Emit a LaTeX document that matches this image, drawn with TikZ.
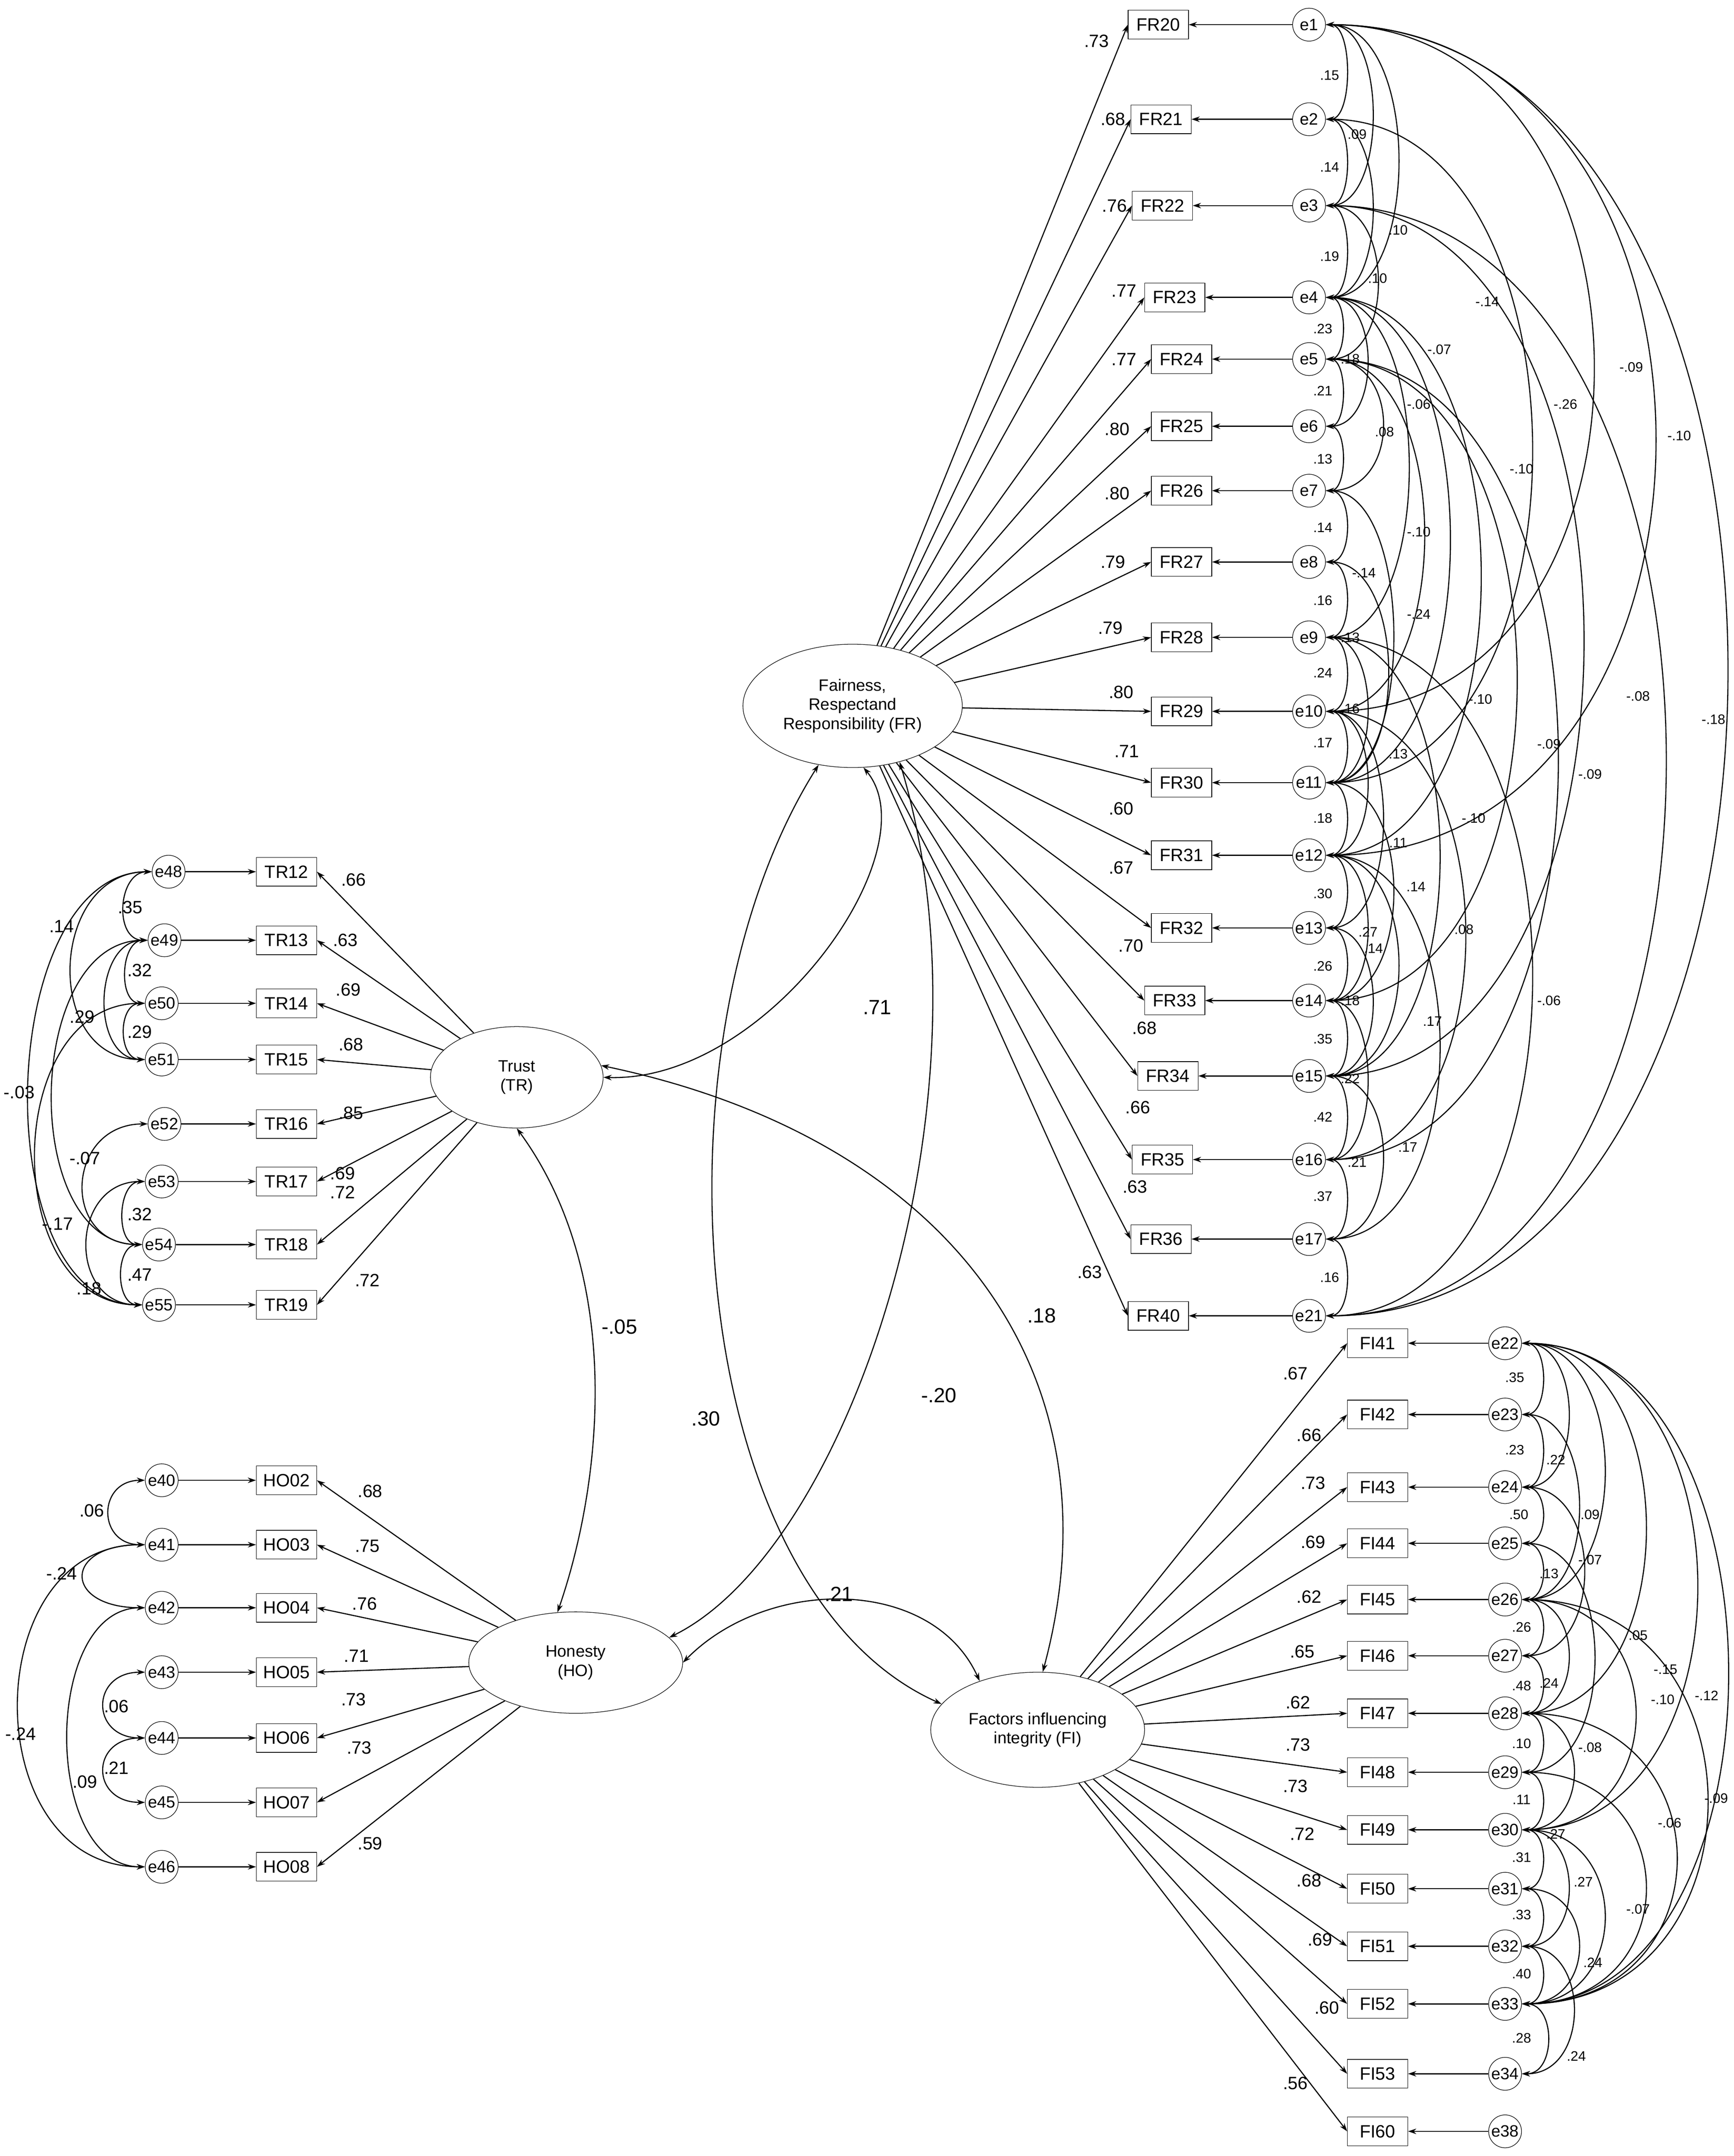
\documentclass[tikz,border=0pt]{standalone}
\usepackage{fontspec}
\setmainfont{Liberation Sans}
\usetikzlibrary{shapes.geometric,arrows.meta}
\begin{document}
\begin{tikzpicture}[x=1pt,y=-1pt,
 obs/.style={draw, minimum width=44pt, minimum height=21pt, inner sep=0pt, font=\fontsize{13}{13}\selectfont},
 err/.style={draw, circle, minimum size=24pt, inner sep=0pt, font=\fontsize{12}{12}\selectfont},
 lat/.style={draw, ellipse, align=center, inner sep=0pt, font=\fontsize{12}{14}\selectfont},
 ar/.style={-{Stealth[length=6pt,width=4pt]}, line width=0.8pt},
 cor/.style={{Stealth[length=6pt,width=4pt]}-{Stealth[length=6pt,width=4pt]}, line width=0.8pt},
 lab/.style={font=\fontsize{13}{13}\selectfont, inner sep=1pt},
 big/.style={font=\fontsize{15}{15}\selectfont, inner sep=1pt},
 sl/.style={font=\fontsize{10}{10}\selectfont, inner sep=1pt}]
\useasboundingbox (0,0) rectangle (1265,1573);
% latent variables
\node[lat, minimum width=160pt, minimum height=90pt] (FR) at (622,515) {Fairness,\\Respectand\\Responsibility (FR)};
\node[lat, minimum width=126pt, minimum height=74pt] (TR) at (377,786) {Trust\\(TR)};
\node[lat, minimum width=156pt, minimum height=74pt] (HO) at (420,1213) {Honesty\\(HO)};
\node[lat, minimum width=156pt, minimum height=84pt] (FI) at (757,1262) {Factors influencing\\integrity (FI)};
% FR block
\foreach \n/\bx/\y/\e/\l/\lx/\ly in {20/845/18/1/.73/800/30, 21/847/87/2/.68/812/87, 22/848/150/3/.76/813/150, 23/857/217/4/.77/820/212, 24/862/262/5/.77/820/262, 25/862/311/6/.80/815/313, 26/862/358/7/.80/815/360, 27/862/410/8/.79/812/410, 28/862/465/9/.79/810/458, 29/862/519/10/.80/818/505, 30/862/571/11/.71/822/548, 31/862/624/12/.60/818/590, 32/862/677/13/.67/818/633, 33/857/730/14/.70/825/690, 34/852/785/15/.68/835/750, 35/848/846/16/.66/830/808, 36/847/904/17/.63/828/866, 40/845/960/21/.63/795/928}{
 \node[obs] (FR\n) at (\bx,\y) {FR\n};
 \node[err] (e\e) at (955,\y) {e\e};
 \draw[ar] (e\e) -- (FR\n);
 \draw[ar] (FR) -- (FR\n.west);
 \node[lab] at (\lx,\ly) {\l};
}
% TR block
\foreach \n/\y/\e/\ex/\l/\lx/\ly in {12/636/48/123/.66/258/642, 13/686/49/120/.63/252/686, 14/732/50/118/.69/254/722, 15/773/51/118/.68/256/762, 16/820/52/120/.85/256/812, 17/862/53/118/.69/250/856, 18/908/54/116/.72/250/870, 19/952/55/116/.72/268/934}{
 \node[obs] (TR\n) at (209,\y) {TR\n};
 \node[err] (e\e) at (\ex,\y) {e\e};
 \draw[ar] (e\e) -- (TR\n);
 \draw[ar] (TR) -- (TR\n.east);
 \node[lab] at (\lx,\ly) {\l};
}
% HO block
\foreach \n/\y/\e/\l/\lx/\ly in {02/1080/40/.68/270/1088, 03/1127/41/.75/268/1128, 04/1173/42/.76/266/1170, 05/1220/43/.71/260/1208, 06/1268/44/.73/258/1240, 07/1315/45/.73/262/1275, 08/1362/46/.59/270/1345}{
 \node[obs] (HO\n) at (209,\y) {HO\n};
 \node[err] (e\e) at (118,\y) {e\e};
 \draw[ar] (e\e) -- (HO\n);
 \draw[ar] (HO) -- (HO\n.east);
 \node[lab] at (\lx,\ly) {\l};
}
% FI block
\foreach \n/\y/\e/\l/\lx/\ly in {41/980/22/.67/945/1002, 42/1032/23/.66/955/1047, 43/1085/24/.73/958/1082, 44/1126/25/.69/958/1125, 45/1167/26/.62/955/1165, 46/1208/27/.65/950/1205, 47/1250/28/.62/947/1242, 48/1293/29/.73/947/1273, 49/1335/30/.73/945/1303, 50/1378/31/.72/950/1338, 51/1420/32/.68/955/1372, 52/1462/33/.69/963/1415, 53/1513/34/.60/968/1465, 60/1555/38/.56/945/1520}{
 \node[obs] (FI\n) at (1005,\y) {FI\n};
 \node[err] (e\e) at (1098,\y) {e\e};
 \draw[ar] (e\e) -- (FI\n);
 \draw[ar] (FI) -- (FI\n.west);
 \node[lab] at (\lx,\ly) {\l};
}
% structural correlations
\draw[cor] (FR.-80) .. controls (680,620) and (560,790) .. (TR.east);
\draw[cor] (FR.-50) .. controls (730,800) and (620,1130) .. (HO.15);
\draw[cor] (FR.-120) .. controls (470,760) and (500,1160) .. (FI.165);
\draw[cor] (TR.south) .. controls (455,930) and (440,1080) .. (HO.110);
\draw[cor] (TR.8) .. controls (690,830) and (820,1000) .. (FI.85);
\draw[cor] (HO.east) .. controls (560,1150) and (680,1150) .. (FI.140);
\node[big] at (640,735) {.71};
\node[big] at (685,1018) {-.20};
\node[big] at (515,1035) {.30};
\node[big] at (452,968) {-.05};
\node[big] at (760,960) {.18};
\node[big] at (612,1163) {.21};
% FR error covariances
\foreach \p/\q/\w in {1/2/20,2/3/20,3/4/20,4/5/16,5/6/16,6/7/16,7/8/20,8/9/20,9/10/20,10/11/20,11/12/20,12/13/20,13/14/20,14/15/20,15/16/20,16/17/20,17/21/20,
 1/3/45,1/4/70,1/10/260,1/12/320,1/21/390,2/11/200,3/5/50,3/21/330,3/15/250,4/6/40,4/11/120,4/9/80,5/7/55,5/14/185,5/16/225,5/10/95,7/11/65,8/11/60,9/11/40,9/15/110,9/21/200,10/13/55,10/16/135,11/14/65,12/14/40,12/15/70,13/15/45,14/16/40,15/17/55,12/17/110,10/12/40,4/12/150,2/4/45}{
 \draw[cor] (e\p.east) .. controls +(\w,0) and +(\w,0) .. (e\q.east);
}
\foreach \l/\x/\y in {.15/970/55,.09/990/98,.14/970/122,.10/1020/168,.19/970/187,.10/1005/203,-.14/1085/220,.23/965/240,-.07/1050/255,-.09/1190/268,.21/965/285,.18/985/262,-.26/1142/295,-.06/1035/295,.08/1010/315,-.10/1225/318,.13/965/335,-.10/1110/342,.14/965/385,-.10/1035/388,-.14/995/418,-.24/1035/448,.16/965/438,.13/985/465,.24/965/491,-.10/1080/510,-.08/1195/508,-.18/1250/525,.17/965/542,.16/985/517,.13/1020/550,-.09/1130/543,-.09/1160/565,.18/965/597,.11/1020/615,-.10/1075/597,.30/965/652,.27/998/680,.14/1033/647,.14/1002/692,.08/1068/678,.26/965/705,.18/985/730,.35/965/758,.17/1045/745,.22/985/787,-.06/1130/730,.42/965/815,.21/990/848,.17/1027/837,.37/965/873,.16/970/932}{
 \node[sl] at (\x,\y) {\l};
}
% FI error covariances
\foreach \p/\q/\w in {22/23/20,23/24/20,24/25/20,25/26/20,26/27/20,27/28/20,28/29/20,29/30/20,30/31/20,31/32/20,32/33/20,33/34/25,22/24/45,22/26/80,22/28/120,22/30/170,22/33/200,24/27/60,26/28/45,26/30/110,26/33/180,28/30/50,28/33/150,30/32/45,30/33/80,31/33/55,29/33/120,32/34/50,25/29/70,23/26/55}{
 \draw[cor] (e\p.east) .. controls +(\w,0) and +(\w,0) .. (e\q.east);
}
\foreach \l/\x/\y in {.35/1105/1005,.23/1105/1058,.22/1135/1065,.09/1160/1105,.50/1108/1105,-.07/1160/1138,.13/1130/1148,.05/1195/1193,.26/1110/1187,-.15/1215/1218,.24/1130/1228,-.10/1213/1240,-.12/1245/1237,.48/1110/1230,-.08/1160/1275,.10/1110/1272,.11/1110/1313,.27/1135/1338,-.06/1218/1330,-.09/1252/1312,.31/1110/1355,.27/1155/1373,-.07/1195/1393,.33/1110/1397,.24/1162/1432,.40/1110/1440,.24/1150/1500,.28/1110/1487}{
 \node[sl] at (\x,\y) {\l};
}
% TR error covariances
\foreach \p/\q/\w in {48/49/25,49/50/20,50/51/20,48/51/75,49/54/90,48/55/115,52/54/60,50/55/105,53/54/20,54/55/20,53/55/55,49/51/40}{
 \draw[cor] (e\p.west) .. controls +(-\w,0) and +(-\w,0) .. (e\q.west);
}
\foreach \l/\x/\y in {.14/45/676,.35/95/662,.32/102/708,.29/60/742,.29/102/753,-.03/14/797,-.07/62/845,-.17/42/893,.32/102/886,.47/102/930,.18/65/940}{
 \node[lab] at (\x,\y) {\l};
}
% HO error covariances
\foreach \p/\q/\w in {40/41/35,41/42/60,41/46/123,42/46/75,43/44/40,44/45/40}{
 \draw[cor] (e\p.west) .. controls +(-\w,0) and +(-\w,0) .. (e\q.west);
}
\foreach \l/\x/\y in {.06/67/1102,-.24/45/1148,-.24/15/1265,.09/62/1300,.06/85/1245,.21/85/1290}{
 \node[lab] at (\x,\y) {\l};
}
\end{tikzpicture}
\end{document}
